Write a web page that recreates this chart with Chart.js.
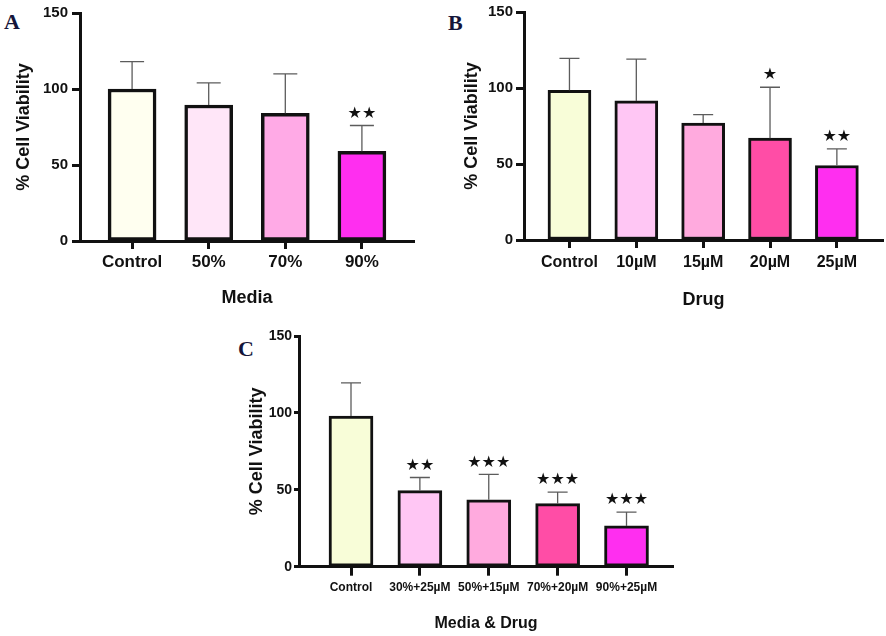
<!DOCTYPE html>
<html>
<head>
<meta charset="utf-8">
<script src="https://cdn.jsdelivr.net/npm/chart.js@4.4.1/dist/chart.umd.min.js"></script>
<style>
    body { margin: 0; background: #fff; width: 886px; height: 636px; position: relative; overflow: hidden; }
    canvas { position: absolute; }
    .tag { position: absolute; font: bold 22px "Liberation Serif", "Times New Roman", serif; line-height: 22px; color: #15153a; }
</style>
</head>
<body>
<div class="tag" style="left:4px;top:11px">A</div>
<div class="tag" style="left:448px;top:12px">B</div>
<div class="tag" style="left:238px;top:338px">C</div>
<canvas id="chartA" width="440" height="320" style="left:0;top:0"></canvas>
<canvas id="chartB" width="446" height="320" style="left:440px;top:0"></canvas>
<canvas id="chartC" width="480" height="316" style="left:220px;top:320px"></canvas>
<script>
// values; errors are the upper end of each SD bar
var mediaLabels = ['Control', '50%', '70%', '90%'];
var mediaValues = [100, 89.5, 84, 59];
var mediaErrors = [118, 104, 110, 76];
var mediaMarks = ['', '', '', '★★'];

var drugLabels = ['Control', '10µM', '15µM', '20µM', '25µM'];
var drugValues = [98.5, 91.5, 77, 67, 49];
var drugErrors = [119.5, 119, 82.5, 100.5, 60];
var drugMarks = ['', '', '', '★', '★★'];

var comboLabels = ['Control', '30%+25µM', '50%+15µM', '70%+20µM', '90%+25µM'];
var comboValues = [98, 49.5, 43.5, 41, 26.5];
var comboErrors = [119.5, 58, 60, 48.5, 35.5];
var comboMarks = ['', '★★', '★★★', '★★★', '★★★'];

var yTicks = [0, 50, 100, 150];

var mediaColors = ['#fffff0', '#ffe6f8', '#ffaae6', '#ff2ef0'];
var drugColors = ['#f8fdd8', '#ffc6f4', '#ffaade', '#ff4da6', '#ff2ef0'];

var SANS = '"Liberation Sans", Arial, sans-serif';
var INK = '#111';

var errorBars = {
    id: 'errorBars',
    afterDatasetsDraw: function (chart, args, o) {
        var ctx = chart.ctx;
        var yScale = chart.scales.y;
        var meta = chart.getDatasetMeta(0);
        ctx.save();
        meta.data.forEach(function (bar, i) {
            var top = yScale.getPixelForValue(o.errors[i]);
            ctx.strokeStyle = '#5c5c5c';
            ctx.lineWidth = 1.3;
            ctx.beginPath();
            ctx.moveTo(bar.x, bar.y);
            ctx.lineTo(bar.x, top);
            ctx.moveTo(bar.x - o.cap, top);
            ctx.lineTo(bar.x + o.cap, top);
            ctx.stroke();
            if (o.marks[i]) {
                ctx.fillStyle = INK;
                ctx.font = o.markSize + 'px "DejaVu Sans", sans-serif';
                ctx.textAlign = 'center';
                ctx.textBaseline = 'middle';
                ctx.fillText(o.marks[i], bar.x, top - 12);
            }
        });
        ctx.restore();
    }
};

function makePanel(id, labels, values, errors, marks, colors, o) {
    var el = document.getElementById(id);
    return new Chart(el, {
        type: 'bar',
        data: {
            datasets: [{
                data: values.map(function (v, i) { return { x: i, y: v }; }),
                backgroundColor: colors,
                borderColor: INK,
                borderWidth: o.barBorder,
                borderSkipped: false,
                barThickness: o.barThickness
            }]
        },
        plugins: [errorBars],
        options: {
            responsive: false,
            animation: false,
            layout: { padding: o.padding },
            plugins: {
                legend: { display: false },
                tooltip: { enabled: false },
                errorBars: { errors: errors, marks: marks, cap: o.cap, markSize: o.markSize }
            },
            scales: {
                x: {
                    type: 'linear',
                    offset: false,
                    min: o.xMin,
                    max: o.xMax,
                    afterBuildTicks: function (s) {
                        s.ticks = labels.map(function (l, i) { return { value: i }; });
                    },
                    afterFit: function (s) { s.height = o.xAxisHeight; },
                    ticks: {
                        autoSkip: false,
                        maxRotation: 0,
                        padding: o.xTickPad,
                        color: INK,
                        font: { family: SANS, size: o.xTickSize, weight: 'bold' },
                        callback: function (v) { return labels[v]; }
                    },
                    grid: { offset: false, drawOnChartArea: false, tickLength: o.xTickLen, tickWidth: 3, tickColor: INK },
                    border: { width: 3, color: INK },
                    title: {
                        display: true,
                        text: o.title,
                        color: INK,
                        font: { family: SANS, size: o.titleSize, weight: 'bold' },
                        padding: { top: 0, bottom: o.xTitlePad }
                    }
                },
                y: {
                    min: 0,
                    max: 150,
                    afterBuildTicks: function (s) {
                        s.ticks = yTicks.map(function (v) { return { value: v }; });
                    },
                    afterFit: function (s) { s.width = o.yAxisWidth; },
                    ticks: {
                        padding: o.yTickPad,
                        color: INK,
                        font: { family: SANS, size: o.yTickSize, weight: 'bold' }
                    },
                    grid: { drawOnChartArea: false, tickLength: o.yTickLen, tickWidth: 3, tickColor: INK },
                    border: { width: 3, color: INK },
                    title: {
                        display: true,
                        text: '% Cell Viability',
                        color: INK,
                        font: { family: SANS, size: 18, weight: 'bold' },
                        padding: { top: o.yTitlePad, bottom: 0 }
                    }
                }
            }
        }
    });
}

makePanel('chartA', mediaLabels, mediaValues, mediaErrors, mediaMarks, mediaColors, {
    title: 'Media', padding: { left: 0, top: 10, right: 26, bottom: 0 },
    xMin: -0.68, xMax: 3.68, yAxisWidth: 80, xAxisHeight: 79,
    barThickness: 48, barBorder: 3.5, cap: 12, markSize: 16,
    xTickSize: 17, xTickPad: 3, xTickLen: 8, titleSize: 18, xTitlePad: 11,
    yTickSize: 15, yTickPad: 4, yTickLen: 8, yTitlePad: 13
});

makePanel('chartB', drugLabels, drugValues, drugErrors, drugMarks, drugColors, {
    title: 'Drug', padding: { left: 0, top: 10, right: 3, bottom: 0 },
    xMin: -0.68, xMax: 4.69, yAxisWidth: 84, xAxisHeight: 80,
    barThickness: 43, barBorder: 3, cap: 10, markSize: 16,
    xTickSize: 16, xTickPad: 5, xTickLen: 8, titleSize: 18, xTitlePad: 9,
    yTickSize: 15, yTickPad: 3, yTickLen: 8, yTitlePad: 21
});

makePanel('chartC', comboLabels, comboValues, comboErrors, comboMarks, drugColors, {
    title: 'Media & Drug', padding: { left: 0, top: 16, right: 27, bottom: 0 },
    xMin: -0.755, xMax: 4.675, yAxisWidth: 79, xAxisHeight: 69.3,
    barThickness: 44, barBorder: 3, cap: 10, markSize: 16,
    xTickSize: 12, xTickPad: 5, xTickLen: 9, titleSize: 16, xTitlePad: 3,
    yTickSize: 14, yTickPad: 2, yTickLen: 5, yTitlePad: 26
});
</script>
</body>
</html>
